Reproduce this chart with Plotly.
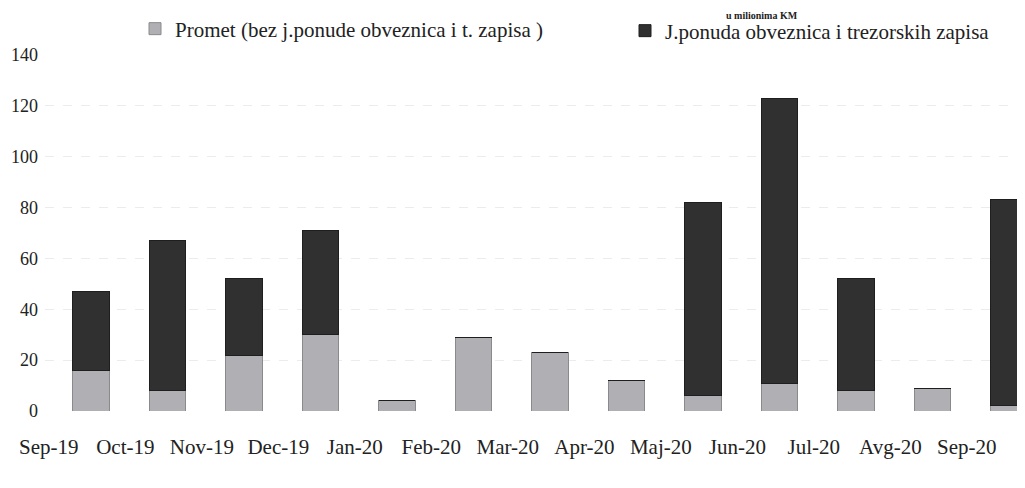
import plotly.graph_objects as go

categories = ["Sep-19", "Oct-19", "Nov-19", "Dec-19", "Jan-20", "Feb-20", "Mar-20",
              "Apr-20", "Maj-20", "Jun-20", "Jul-20", "Avg-20", "Sep-20"]
promet = [16, 8, 22, 30, 4, 29, 23, 12, 6, 11, 8, 9, 2]
jponuda = [31, 59, 30, 41, 0, 0, 0, 0, 76, 112, 44, 0, 81]
y_ticks = [0, 20, 40, 60, 80, 100, 120, 140]

name_promet = "Promet (bez j.ponude obveznica i t. zapisa )"
name_jponuda = "J.ponuda obveznica i trezorskih zapisa"

SERIF = "Liberation Serif, Tinos, DejaVu Serif, serif"

xpos = list(range(len(categories)))

fig = go.Figure()
fig.add_trace(go.Bar(x=xpos, y=promet, name=name_promet, legend="legend",
                     marker=dict(color="#b0b0b4", line=dict(color="#8a8a8e", width=1))))
fig.add_trace(go.Bar(x=xpos, y=jponuda, name=name_jponuda, legend="legend2",
                     marker=dict(color="#303030", line=dict(color="#1e1e1e", width=1))))

# page offset of 8px (body margin); helpers convert page pixels to paper coords
ML, MT, PH = 37, 47, 356.0
PW = 1025.0 - ML
def px_x(p):
    return (p - 8 - ML) / PW
def px_y(p):
    return 1 + (MT - (p - 8)) / PH

legend_common = dict(orientation="h", yanchor="middle", xanchor="left",
                     font=dict(family=SERIF, size=21, color="#222222"),
                     itemwidth=30, bgcolor="rgba(0,0,0,0)", borderwidth=0)

fig.update_layout(
    barmode="stack",
    bargap=0.52,
    width=1025, height=488,
    margin=dict(l=ML, r=0, t=MT, b=488 - MT - 356, autoexpand=False),
    paper_bgcolor="white", plot_bgcolor="white",
    font=dict(family=SERIF, color="#222222"),
    showlegend=True,
    legend=dict(x=px_x(135), y=px_y(29), **legend_common),
    legend2=dict(x=px_x(625), y=px_y(31), **legend_common),
    annotations=[dict(text="<b>u milionima KM</b>", xref="paper", yref="paper",
                      x=px_x(800), y=px_y(8), xanchor="right", yanchor="top",
                      showarrow=False, font=dict(family=SERIF, size=10, color="#222222"))],
)
fig.update_xaxes(range=[-0.6, 12.315], tickmode="array",
                 tickvals=[i - 0.55 for i in xpos], ticktext=categories,
                 tickangle=0, ticks="", showgrid=False, zeroline=False, showline=False,
                 ticklabelstandoff=21,
                 tickfont=dict(family=SERIF, size=21, color="#222222"))
fig.update_yaxes(range=[0, 140], tickmode="array", tickvals=y_ticks,
                 showgrid=True, gridcolor="#ececec", griddash="dash", zeroline=False,
                 showline=False, ticks="", ticklabelstandoff=6,
                 tickfont=dict(family=SERIF, size=18, color="#222222"))

fig.write_html("out.html")
